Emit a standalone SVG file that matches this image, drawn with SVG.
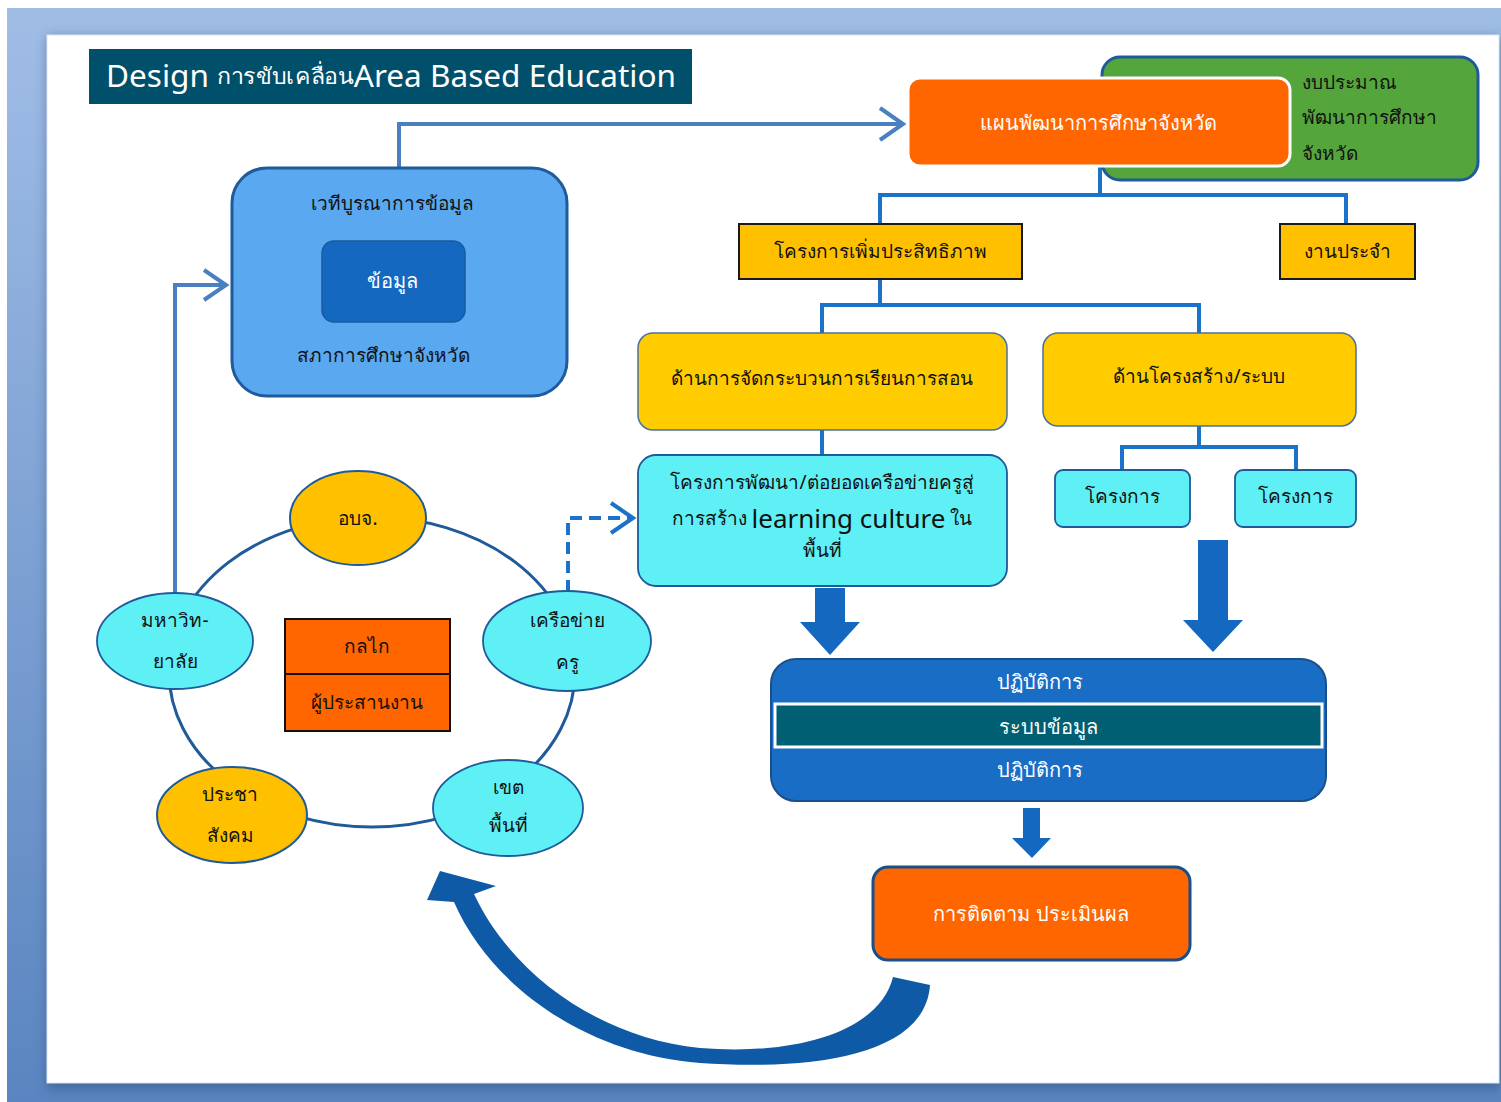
<svg xmlns="http://www.w3.org/2000/svg" width="1501" height="1102" viewBox="0 0 1501 1102">
<defs>
<linearGradient id="bg" x1="0" y1="0" x2="0" y2="1">
<stop offset="0" stop-color="#a0bde6"/>
<stop offset="1" stop-color="#5a85c0"/>
</linearGradient>
<filter id="sh" x="-5%" y="-5%" width="110%" height="110%">
<feGaussianBlur stdDeviation="6"/>
</filter>
<style>
text{font-family:"Noto Sans","DejaVu Sans","Liberation Sans",sans-serif;text-anchor:middle;dominant-baseline:central}
.t{font-size:19px;fill:#111}
.w{font-size:20px;fill:#fff}
.conn{fill:none;stroke:#1a73c8;stroke-width:4}
.conn2{fill:none;stroke:#4a7fc1;stroke-width:4}
.yel{fill:#ffc000;stroke:#1a1a1a;stroke-width:2}
.ygold{fill:#ffcc00;stroke:#4a6fa0;stroke-width:1.5}
.cyan{fill:#5ef0f5;stroke:#1f5a9a;stroke-width:1.8}
.oval-y{fill:#ffc000;stroke:#1f5a9a;stroke-width:2}
.blk{fill:#1468c0}
</style>
</defs>
<rect x="0" y="0" width="1501" height="1102" fill="#ffffff"/>
<rect x="7" y="8" width="1494" height="1094" fill="url(#bg)"/>
<rect x="47" y="37" width="1454" height="1052" fill="#2c4a78" opacity="0.5" filter="url(#sh)"/>
<rect x="47" y="35" width="1452" height="1048" fill="#ffffff" stroke="#dde6f2" stroke-width="1"/>

<g id="title">
<rect x="89" y="49" width="603" height="55" fill="#004f6b"/>
<text x="106" y="75" textLength="570" lengthAdjust="spacingAndGlyphs" style="font-size:30px;fill:#fff;text-anchor:start">Design <tspan style="font-size:22px">การขับเคลื่อน</tspan>Area Based Education</text>
</g>

<g id="connectors">
<polyline class="conn2" points="399,168 399,124 903,124"/>
<polyline class="conn2" points="880,108 903,124 880,140"/>
<polyline class="conn" points="1100,166 1100,195"/>
<polyline class="conn" points="880,224 880,195 1346,195 1346,224"/>
<polyline class="conn" points="880,279 880,305"/>
<polyline class="conn" points="822,333 822,305 1199,305 1199,333"/>
<polyline class="conn" points="822,430 822,455"/>
<polyline class="conn" points="1199,426 1199,447"/>
<polyline class="conn" points="1122,470 1122,447 1296,447 1296,470"/>
<polyline class="conn2" points="175,594 175,285 226,285"/>
<polyline class="conn2" points="204,270 226,285 204,300"/>
<polyline class="conn" points="568,592 568,518 633,518" stroke-dasharray="12,7"/>
<polyline class="conn" points="611,503 633,518 611,533"/>
<ellipse cx="372" cy="672" rx="203" ry="155" fill="none" stroke="#1f5a9a" stroke-width="3"/>
<polygon class="blk" points="815,588 845,588 845,622 860,622 830,655 800,622 815,622"/>
<polygon class="blk" points="1198,540 1228,540 1228,620 1243,620 1213,652 1183,620 1198,620"/>
<polygon class="blk" points="1023,808 1040,808 1040,838 1051,838 1032,858 1012,838 1023,838"/>
<path d="M930,985 C925,1060 800,1070 700,1063 C585,1054 490,985 454,902 L427,900 L440,871 L496,886 L474,894 C512,975 600,1038 700,1048 C800,1056 880,1030 893,977 Z" fill="#0f5aa6"/>
</g>

<g id="budget">
<rect x="1102" y="57" width="376" height="123" rx="18" fill="#54a63c" stroke="#1f5a9a" stroke-width="3"/>
<text x="1302" y="82" class="t" style="text-anchor:start">งบประมาณ</text>
<text x="1302" y="117" class="t" style="text-anchor:start">พัฒนาการศึกษา</text>
<text x="1302" y="153" class="t" style="text-anchor:start">จังหวัด</text>
</g>
<g id="plan">
<rect x="908" y="78" width="382" height="88" rx="12" fill="#ff6600" stroke="#ffffff" stroke-width="3"/>
<text x="1098" y="122" class="w">แผนพัฒนาการศึกษาจังหวัด</text>
</g>
<g id="efficiency">
<rect x="739" y="224" width="283" height="55" class="yel"/>
<text x="880" y="251" class="t">โครงการเพิ่มประสิทธิภาพ</text>
</g>
<g id="routine">
<rect x="1280" y="224" width="135" height="55" class="yel"/>
<text x="1347" y="251" class="t">งานประจำ</text>
</g>
<g id="teaching">
<rect x="638" y="333" width="369" height="97" rx="15" class="ygold"/>
<text x="822" y="378" class="t">ด้านการจัดกระบวนการเรียนการสอน</text>
</g>
<g id="structure">
<rect x="1043" y="333" width="313" height="93" rx="15" class="ygold"/>
<text x="1199" y="376" class="t">ด้านโครงสร้าง/ระบบ</text>
</g>
<g id="network-project">
<rect x="638" y="455" width="369" height="131" rx="18" class="cyan"/>
<text x="822" y="482" class="t">โครงการพัฒนา/ต่อยอดเครือข่ายครูสู่</text>
<text x="822" y="518" class="t">การสร้าง <tspan style="font-size:26px">learning culture</tspan> ใน</text>
<text x="822" y="550" class="t">พื้นที่</text>
</g>
<g id="project1">
<rect x="1055" y="470" width="135" height="57" rx="8" class="cyan"/>
<text x="1122" y="496" class="t">โครงการ</text>
</g>
<g id="project2">
<rect x="1235" y="470" width="121" height="57" rx="8" class="cyan"/>
<text x="1295" y="496" class="t">โครงการ</text>
</g>
<g id="forum">
<rect x="232" y="168" width="335" height="228" rx="35" fill="#5aa8ef" stroke="#1f5a9a" stroke-width="3"/>
<text x="392" y="203" class="t">เวทีบูรณาการข้อมูล</text>
<rect x="322" y="241" width="143" height="81" rx="12" fill="#1468c0" stroke="#1a5aa0" stroke-width="1.5"/>
<text x="392" y="280" class="w">ข้อมูล</text>
<text x="383" y="355" class="t">สภาการศึกษาจังหวัด</text>
</g>
<g id="operations">
<rect x="771" y="659" width="555" height="142" rx="25" fill="#1a6dc5" stroke="#1a4f8a" stroke-width="2"/>
<rect x="775" y="704" width="547" height="43" fill="#005f73" stroke="#ffffff" stroke-width="3"/>
<text x="1040" y="681" class="w">ปฏิบัติการ</text>
<text x="1048" y="726" class="w">ระบบข้อมูล</text>
<text x="1040" y="769" class="w">ปฏิบัติการ</text>
</g>
<g id="evaluation">
<rect x="873" y="867" width="317" height="93" rx="15" fill="#ff6600" stroke="#1a4f8a" stroke-width="3"/>
<text x="1031" y="913" class="w">การติดตาม ประเมินผล</text>
</g>
<g id="mechanism">
<rect x="285" y="619" width="165" height="55" fill="#ff6600" stroke="#111" stroke-width="2"/>
<rect x="285" y="674" width="165" height="57" fill="#ff6600" stroke="#111" stroke-width="2"/>
<text x="367" y="646" class="t">กลไก</text>
<text x="367" y="702" class="t">ผู้ประสานงาน</text>
</g>
<g id="pao">
<ellipse cx="358" cy="518" rx="68" ry="47" class="oval-y"/>
<text x="358" y="518" class="t">อบจ.</text>
</g>
<g id="university">
<ellipse cx="175" cy="641" rx="78" ry="48" class="cyan"/>
<text x="175" y="620" class="t">มหาวิท-</text>
<text x="175" y="661" class="t">ยาลัย</text>
</g>
<g id="teacher-network">
<ellipse cx="567" cy="641" rx="84" ry="50" class="cyan"/>
<text x="567" y="620" class="t">เครือข่าย</text>
<text x="567" y="662" class="t">ครู</text>
</g>
<g id="civil-society">
<ellipse cx="232" cy="815" rx="75" ry="48" class="oval-y"/>
<text x="230" y="794" class="t">ประชา</text>
<text x="230" y="835" class="t">สังคม</text>
</g>
<g id="area">
<ellipse cx="508" cy="808" rx="75" ry="48" class="cyan"/>
<text x="508" y="787" class="t">เขต</text>
<text x="508" y="825" class="t">พื้นที่</text>
</g>
</svg>
